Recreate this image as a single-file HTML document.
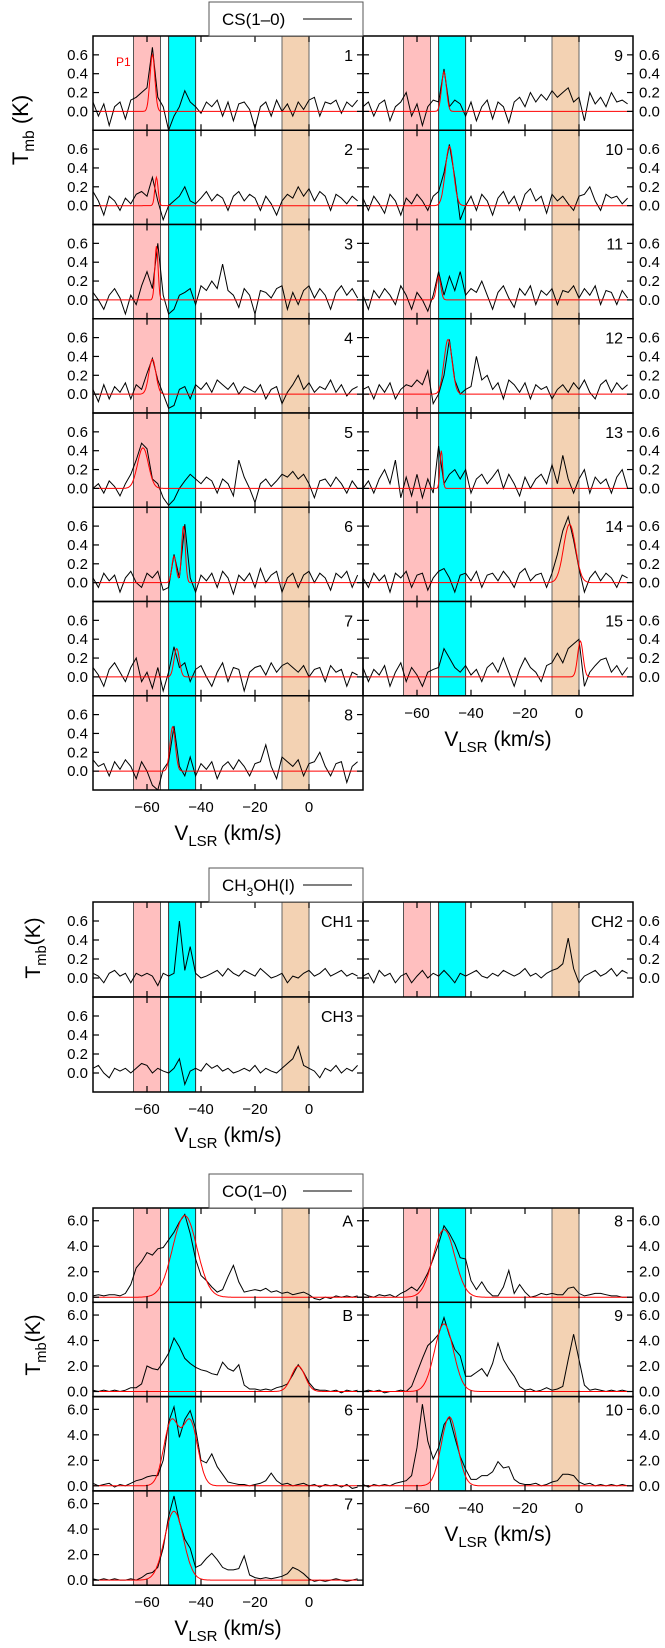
<!DOCTYPE html>
<html><head><meta charset="utf-8"><style>
body{margin:0;background:#fff}
svg text{font-family:"Liberation Sans",Arial,sans-serif}
</style></head><body>
<svg id="fig" xmlns="http://www.w3.org/2000/svg" width="665" height="1643" viewBox="0 0 665 1643">
</svg>
<script>
// ---------- data ----------
const velStart = -80, velStep = 2;
const csNames = ["1","2","3","4","5","6","7","8","9","10","11","12","13","14","15"];
const cs1=[0.1,-0.05,0.08,-0.15,0.05,0.1,-0.08,0.12,0.15,0.2,0.25,0.68,0.15,0.05,-0.2,-0.05,0.05,0.22,0.1,0.05,-0.02,0.1,0.05,0.12,-0.05,0.1,-0.1,0.08,0.1,0.02,-0.18,0.05,0.1,-0.05,0.12,0.0,0.08,-0.05,0.1,0.02,0.12,0.15,-0.05,0.1,0.08,0.12,-0.02,0.1,0.05,0.12];
const cs2=[0.15,0.05,-0.1,0.1,0.05,-0.05,0.08,0.02,0.12,0.15,0.1,0.3,0.05,-0.15,0.0,0.05,0.1,0.2,0.05,0.02,0.08,0.15,0.05,0.12,0.08,-0.05,0.1,0.15,0.05,0.12,0.08,-0.05,0.1,0.02,-0.1,0.05,0.12,0.08,0.2,0.1,0.18,0.05,0.15,0.1,-0.05,0.12,0.08,0.02,0.1,0.05];
const cs3=[0.08,0.0,-0.1,0.05,0.12,0.02,-0.15,0.05,-0.05,0.15,0.3,0.12,0.6,0.05,-0.15,-0.1,0.05,0.08,0.12,-0.05,0.15,0.1,0.2,0.12,0.38,0.1,0.05,-0.08,0.12,0.05,-0.15,0.1,0.08,0.02,0.12,0.15,-0.1,0.08,-0.05,0.1,0.15,0.02,0.12,0.05,-0.1,0.08,0.15,0.05,0.12,0.02];
const cs4=[0.05,-0.08,0.1,-0.05,0.08,0.02,0.12,-0.05,0.1,0.05,0.22,0.38,0.15,0.0,-0.15,-0.12,0.05,0.08,-0.05,0.1,0.05,0.12,0.02,0.15,0.1,0.05,0.12,0.0,0.08,0.05,0.02,0.1,-0.05,0.05,0.08,-0.1,0.02,0.1,0.2,0.05,0.12,0.02,0.08,0.05,0.15,0.02,0.1,-0.02,0.05,0.08];
const cs5=[0.0,0.05,-0.05,0.08,0.02,-0.08,0.05,0.15,0.3,0.48,0.42,0.1,0.05,-0.1,-0.18,-0.12,0.0,0.08,0.15,0.1,0.05,0.12,0.08,-0.05,0.1,0.05,-0.08,0.3,0.12,0.0,-0.15,0.05,0.1,0.02,0.08,0.15,0.12,0.18,0.1,0.15,0.05,-0.1,0.08,0.1,0.02,0.12,0.05,-0.05,0.08,0.0];
const cs6=[0.05,-0.05,0.1,0.02,0.08,-0.1,0.05,0.12,0.0,-0.05,0.1,0.05,0.12,-0.08,-0.05,0.3,0.05,0.62,0.05,-0.1,0.08,0.02,0.1,-0.05,0.12,0.05,-0.12,0.08,0.02,0.1,-0.05,0.15,0.0,0.08,0.12,-0.1,0.05,0.1,-0.05,0.08,0.12,0.0,0.1,0.05,-0.08,0.1,0.05,0.12,-0.05,0.08];
const cs7=[0.1,0.02,-0.1,0.08,0.15,0.05,-0.05,0.1,0.2,-0.05,0.05,-0.12,0.1,-0.15,0.05,0.32,0.1,0.15,-0.05,0.08,0.12,0.0,-0.1,0.05,0.15,-0.05,0.1,0.08,-0.15,0.05,0.1,0.12,0.02,0.15,0.05,0.12,0.15,0.1,0.05,0.12,0.0,0.08,0.1,-0.05,0.12,0.05,0.08,-0.1,0.05,0.02];
const cs8=[0.12,0.05,0.08,-0.05,0.1,0.02,0.12,0.05,-0.08,0.1,0.0,-0.15,-0.2,0.02,0.1,0.48,0.05,-0.05,0.15,-0.05,0.08,0.02,0.1,-0.08,0.05,0.1,0.02,0.12,0.05,-0.05,0.08,0.1,0.28,0.05,-0.08,0.15,0.1,0.05,0.12,-0.05,0.08,0.1,0.2,0.05,-0.05,0.08,0.1,-0.12,0.05,0.1];
const cs9=[0.05,0.1,-0.05,0.08,0.12,-0.1,0.05,0.1,0.2,-0.05,0.08,-0.15,0.05,0.12,0.1,0.45,0.05,0.12,0.08,-0.05,0.1,-0.1,0.05,0.12,-0.08,0.1,0.05,-0.12,0.1,0.15,0.05,0.2,0.1,0.18,0.12,0.22,0.15,0.2,0.25,0.1,0.15,-0.1,0.2,0.08,0.15,0.05,0.2,0.1,0.12,0.08];
const cs10=[0.08,-0.05,0.1,0.02,-0.08,0.12,0.05,-0.1,0.08,0.02,0.12,0.05,-0.05,0.1,0.15,0.35,0.65,0.3,-0.15,0.0,0.1,-0.05,0.12,0.05,-0.1,0.08,0.15,0.02,0.1,-0.05,0.12,0.18,0.05,0.1,-0.08,0.12,0.05,0.1,0.02,-0.05,0.1,0.12,0.2,0.05,-0.05,0.12,0.08,0.1,0.02,0.08];
const cs11=[0.05,-0.1,0.1,0.02,0.12,0.05,-0.05,0.15,0.05,-0.1,0.08,0.0,-0.12,0.05,0.3,0.05,0.25,0.1,0.3,0.05,0.12,0.08,0.2,0.05,-0.1,0.08,0.15,0.02,-0.08,0.12,0.05,0.15,-0.05,0.1,0.05,0.12,-0.05,0.1,0.08,0.15,0.02,0.12,0.05,0.15,-0.05,0.1,0.08,-0.05,0.1,0.02];
const cs12=[0.05,0.08,-0.05,0.1,0.02,0.12,-0.05,0.05,0.1,0.08,0.15,0.1,0.25,-0.1,0.0,0.2,0.58,0.15,0.0,0.05,0.08,0.4,0.15,0.2,0.05,0.12,-0.05,0.15,0.1,0.02,0.12,-0.05,0.1,0.05,0.08,-0.05,0.05,0.1,0.02,0.12,0.05,0.15,0.02,-0.05,0.1,0.15,0.02,0.12,0.05,0.1];
const cs13=[0.0,0.08,-0.05,0.1,0.2,0.05,0.3,-0.1,0.12,-0.08,0.15,-0.1,0.1,-0.05,0.45,0.05,0.15,0.2,0.1,0.2,-0.05,0.1,0.15,0.05,0.12,0.2,0.0,0.15,0.05,-0.08,0.12,0.0,0.1,0.15,0.05,0.25,0.05,0.35,0.1,-0.05,0.1,0.2,-0.05,0.12,0.05,0.1,-0.05,0.12,0.2,0.0];
const cs14=[0.05,-0.05,0.1,0.02,0.08,-0.1,0.1,0.05,0.12,-0.05,0.08,0.1,-0.08,0.05,0.12,0.15,0.05,-0.1,0.08,0.1,0.02,0.12,-0.05,0.08,0.1,0.02,0.12,0.05,-0.05,0.1,0.15,0.02,0.08,0.1,-0.05,0.1,0.3,0.55,0.7,0.45,0.15,-0.1,0.05,0.12,0.02,0.1,0.05,-0.05,0.08,0.05];
const cs15=[0.1,-0.05,0.08,0.02,0.12,-0.1,0.05,0.15,-0.05,0.1,0.02,-0.1,0.05,0.08,0.1,0.3,0.2,0.1,0.05,0.12,0.02,0.08,-0.05,0.1,0.15,0.05,0.2,0.05,-0.1,0.08,0.2,0.1,0.05,-0.05,0.12,0.15,0.25,0.15,0.3,0.35,0.4,-0.1,0.05,0.12,0.18,0.2,0.05,0.12,0.02,0.1];
const csSpectra=[cs1,cs2,cs3,cs4,cs5,cs6,cs7,cs8,cs9,cs10,cs11,cs12,cs13,cs14,cs15];
const csFitCenter=[[-58],[-56.5],[-56.5],[-58],[-61.5],[-50,-46.5],[-49],[-50.5],[-50],[-48],[-52],[-48.5],[-51],[-3.5],[0.5]];
const csFitAmp=[[0.6],[0.3],[0.57],[0.37],[0.43],[0.28,0.6],[0.3],[0.47],[0.42],[0.63],[0.25],[0.58],[0.4],[0.62],[0.38]];
const csFitSigma=[[0.9],[0.6],[0.6],[1.3],[2],[0.8,0.7],[1],[1],[0.9],[1.5],[0.8],[1.5],[0.5],[2.2],[1]];

const chNames=["CH1","CH2","CH3"];
const ch1=[0.05,0.02,-0.05,0.05,0.08,0.02,0.05,-0.05,0.05,0.02,0.05,0.02,-0.08,0.05,0.02,0.05,0.6,0.08,0.33,0.05,0.0,0.02,0.05,0.08,0.02,0.1,0.05,0.02,0.08,0.05,0.02,0.1,0.05,0.0,0.02,0.05,-0.05,0.02,0.0,0.05,0.08,0.02,0.05,0.1,0.02,0.05,0.08,0.02,0.05,0.02];
const ch2=[0.02,0.05,-0.05,0.08,0.02,0.05,-0.05,0.02,0.05,-0.05,0.02,0.08,0.0,0.05,0.02,0.08,0.02,-0.05,0.05,0.02,0.05,0.08,0.02,0.0,0.05,0.02,0.08,0.05,0.02,0.05,0.1,0.02,0.05,0.0,0.05,0.08,0.1,0.15,0.42,0.1,-0.05,0.02,0.05,0.08,0.02,0.05,0.1,0.02,0.08,0.05];
const ch3=[0.05,0.08,0.0,-0.05,0.05,0.02,0.05,0.0,0.05,0.1,0.08,0.0,0.05,0.02,0.0,0.05,0.15,-0.12,0.02,0.05,0.02,0.1,0.05,0.08,0.02,0.05,0.0,0.02,0.05,0.02,0.08,0.0,0.05,0.02,0.0,0.05,0.1,0.15,0.28,0.08,0.05,0.02,-0.05,0.05,0.02,0.08,0.0,0.05,0.02,0.08];
const chSpectra=[ch1,ch2,ch3];

const coNames=["A","B","6","7","8","9","10"];
const coA=[0.1,0.2,0.1,0.2,0.2,0.1,0.3,1.0,2.3,2.8,3.5,3.3,3.8,3.9,4.5,5.1,5.9,6.5,5.0,3.0,1.7,1.3,0.8,0.4,0.6,1.6,2.5,1.2,0.4,0.5,0.6,0.5,0.7,0.4,0.5,0.3,0.4,0.2,0.3,0.4,0.2,-0.1,-0.2,0.0,-0.1,0.1,0.0,0.1,0.0,0.1];
const coB=[0.1,0.0,0.1,0.0,0.1,0.0,0.1,0.3,0.3,0.6,2.0,1.8,1.7,2.3,3.0,4.2,3.5,2.6,2.2,1.9,1.7,1.6,1.4,1.3,2.3,1.8,1.6,2.1,0.5,0.2,0.2,0.1,0.2,0.1,0.3,0.4,0.6,1.3,2.1,1.5,0.7,0.2,0.1,0.1,0.0,0.1,-0.1,0.1,0.0,0.1];
const co6=[0.2,0.0,0.1,0.2,-0.1,0.1,0.0,0.2,0.4,0.5,0.7,0.8,0.8,2.0,5.0,6.2,3.8,5.2,5.9,4.5,2.0,1.8,2.5,1.5,0.9,0.3,0.2,0.1,0.1,0.0,0.1,0.2,0.4,1.0,0.4,0.1,0.2,0.0,0.1,0.2,0.0,0.1,-0.1,0.1,0.0,0.1,-0.1,0.1,-0.2,-0.1];
const co7=[0.1,0.0,0.1,0.0,0.1,0.0,0.0,0.1,0.0,0.2,0.5,0.6,1.0,2.5,5.0,6.6,4.6,3.2,2.5,1.0,1.2,1.7,2.1,1.6,1.0,0.8,0.8,0.9,1.9,0.4,0.2,0.1,0.2,0.1,0.2,0.3,0.5,1.0,0.8,0.5,0.1,-0.1,0.0,-0.1,0.0,0.1,0.0,-0.1,0.0,0.1];
const co8=[0.3,0.1,0.0,0.2,0.1,0.2,0.0,0.3,0.5,0.8,0.5,1.1,1.9,3.0,4.2,5.6,5.0,4.2,3.1,3.0,1.3,0.6,1.2,0.5,0.1,0.1,0.8,2.1,0.3,1.0,0.4,0.0,0.1,0.3,0.2,0.3,0.2,0.2,0.7,0.8,0.3,0.1,0.2,0.3,0.3,0.2,0.1,0.1,0.0,0.0];
const co9=[0.0,0.1,0.0,0.1,-0.1,0.0,0.0,0.1,0.0,0.4,1.5,2.6,3.6,4.0,4.5,5.8,4.4,3.3,2.8,1.2,1.2,1.5,1.8,1.2,2.2,3.8,2.5,1.8,1.2,0.4,0.1,0.2,0.0,0.1,0.3,0.1,0.2,0.4,2.5,4.5,2.5,0.5,0.1,0.2,0.1,0.0,0.1,0.0,0.1,0.0];
const co10=[0.1,-0.1,0.1,0.0,0.1,0.0,0.2,0.3,0.4,0.8,3.0,6.4,3.5,2.1,3.0,4.8,5.4,3.8,2.3,1.3,0.5,0.5,0.8,0.8,1.1,1.9,1.4,1.5,0.5,0.2,0.1,0.1,0.2,0.0,0.1,0.3,0.4,0.9,0.9,0.8,0.3,0.1,0.2,0.0,0.1,0.0,0.1,0.0,0.1,0.0];
const coSpectra=[coA,coB,co6,co7,co8,co9,co10];
const coFitCenter=[[-46],[-4],[-51,-44],[-50],[-50],[-50],[-48]];
const coFitAmp=[[6.4],[2.0],[5.0,5.0],[5.4],[5.3],[5.3],[5.4]];
const coFitSigma=[[4.5],[2.5],[2.8,2.8],[3.5],[4],[3.5],[3]];

const bandLo=[-65,-52,-10];
const bandHi=[-55,-42,0];
const xTicks=[-60,-40,-20,0];
const csYTicks=[0,0.2,0.4,0.6];
const coYTicks=[0,2,4,6];

// ---------- drawing ----------
const NS="http://www.w3.org/2000/svg";
const svg=document.getElementById('fig');
const bandFill=["#ffbfbf","#00ffff","#f3d2b3"];
const bandStroke=["#555","#333","#666"];
let clipId=0;
function el(tag,attrs,parent){const e=document.createElementNS(NS,tag);for(const k in attrs)e.setAttribute(k,attrs[k]);(parent||svg).appendChild(e);return e;}
function txt(x,y,s,size,anchor,parent){const t=el('text',{x:x,y:y,'font-size':size,'text-anchor':anchor||'start',fill:'#000'},parent);t.textContent=s;return t;}

function panel(o){
  // o: x0,y0,w,h,ymin,ymax,yTicks,labelSide,name,spec,fc,fa,fs,bottomLabels,fmt
  const g=el('g',{});
  
  
  const X=v=>o.x0+(v-(-80))/100*o.w;
  const Y=t=>o.y0+o.h-(t-o.ymin)/(o.ymax-o.ymin)*o.h;
  const cid='c'+(clipId++);
  const cp=el('clipPath',{id:cid},g);el('rect',{x:o.x0,y:o.y0,width:o.w,height:o.h},cp);
  for(let b=0;b<3;b++){
    const r=el('rect',{x:X(bandLo[b]),y:o.y0,width:X(bandHi[b])-X(bandLo[b]),height:o.h,fill:bandFill[b],stroke:bandStroke[b],'stroke-width':1},g);
    
    
  }
  const inner=el('g',{'clip-path':'url(#'+cid+')'},g);
  let pts=o.spec.map((t,i)=>X(velStart+velStep*i).toFixed(1)+','+Y(t).toFixed(1)).join(' ');
  const pl=el('polyline',{points:pts,fill:'none',stroke:'#000','stroke-width':1},inner);
  
  
  if(o.fc){
    let fp=[];
    for(let v=-80;v<=20;v+=0.25){let s=0;for(let k=0;k<o.fc.length;k++)s+=o.fa[k]*Math.exp(-0.5*Math.pow((v-o.fc[k])/o.fs[k],2));fp.push(X(v).toFixed(1)+','+Y(s).toFixed(1));}
    const fl=el('polyline',{points:fp.join(' '),fill:'none',stroke:'#f00','stroke-width':1},inner);
    
    
  }
  el('rect',{x:o.x0,y:o.y0,width:o.w,height:o.h,fill:'none',stroke:'#000','stroke-width':1.5},g);
  for(const v of xTicks){
    el('line',{x1:X(v),x2:X(v),y1:o.y0,y2:o.y0+6,stroke:'#000','stroke-width':1.2},g);
    el('line',{x1:X(v),x2:X(v),y1:o.y0+o.h,y2:o.y0+o.h-6,stroke:'#000','stroke-width':1.2},g);
  }
  for(const t of o.yTicks){
    el('line',{x1:o.x0,x2:o.x0+6,y1:Y(t),y2:Y(t),stroke:'#000','stroke-width':1.2},g);
    el('line',{x1:o.x0+o.w,x2:o.x0+o.w-6,y1:Y(t),y2:Y(t),stroke:'#000','stroke-width':1.2},g);
    const lab=o.labelSide==='left'?txt(o.x0-5,Y(t)+5,t.toFixed(1),15,'end',g):txt(o.x0+o.w+6,Y(t)+5,t.toFixed(1),15,'start',g);
    
    
  }
  const nm=txt(o.x0+o.w-10,Y(o.yTicks[3])+6,o.name,16,'end',g);
  
  
  if(o.bottomLabels){
    for(const v of xTicks){
      const l=txt(X(v),o.y0+o.h+22,v===0?'0':'\u2212'+Math.abs(v),15,'middle',g);
      
      
    }
    const tt=el('text',{x:o.x0+o.w/2,y:o.y0+o.h+50,'font-size':21,'text-anchor':'middle'},g);
    
    
    tt.innerHTML='V<tspan font-size="15" dy="6">LSR</tspan><tspan dy="-6"> (km/s)</tspan>';
  }
}

const LX=93, RX=363, PW=270;
// CS
const csTop=36, csH=94.25;
for(let i=0;i<15;i++){
  const right=i>=8, row=right?i-8:i;
  panel({x0:right?RX:LX,y0:csTop+row*csH,w:PW,h:csH,ymin:-0.2,ymax:0.8,yTicks:csYTicks,labelSide:right?'right':'left',name:csNames[i],spec:csSpectra[i],fc:csFitCenter[i],fa:csFitAmp[i],fs:csFitSigma[i],bottomLabels:(i===7||i===14)});
}
// CH3OH
const chTop=902, chH=95;
panel({x0:LX,y0:chTop,w:PW,h:chH,ymin:-0.2,ymax:0.8,yTicks:csYTicks,labelSide:'left',name:chNames[0],spec:chSpectra[0],bottomLabels:false});
panel({x0:RX,y0:chTop,w:PW,h:chH,ymin:-0.2,ymax:0.8,yTicks:csYTicks,labelSide:'right',name:chNames[1],spec:chSpectra[1],bottomLabels:false});
panel({x0:LX,y0:chTop+chH,w:PW,h:chH,ymin:-0.2,ymax:0.8,yTicks:csYTicks,labelSide:'left',name:chNames[2],spec:chSpectra[2],bottomLabels:true});
// CO
const coTop=1208, coH=94.3;
for(let i=0;i<7;i++){
  const right=i>=4, row=right?i-4:i;
  panel({x0:right?RX:LX,y0:coTop+row*coH,w:PW,h:coH,ymin:-0.4,ymax:7.0,yTicks:coYTicks,labelSide:right?'right':'left',name:coNames[i],spec:coSpectra[i],fc:coFitCenter[i],fa:coFitAmp[i],fs:coFitSigma[i],bottomLabels:(i===3||i===6)});
}

// legends
function legend(y0,html,name){
  const g=el('g',{});
  
  
  el('rect',{x:209,y:y0,width:154,height:34,fill:'#fff',stroke:'#555','stroke-width':1},g);
  const t=el('text',{x:222,y:y0+23,'font-size':17},g);t.innerHTML=html;
  el('line',{x1:303,x2:352,y1:y0+17,y2:y0+17,stroke:'#000','stroke-width':1},g);
}
legend(2,'CS(1\u20130)','legend-cs');
legend(868,'CH<tspan font-size="12" dy="5">3</tspan><tspan dy="-5">OH(I)</tspan>','legend-ch3oh');
legend(1174,'CO(1\u20130)','legend-co');

// y titles
function ytitle(x,y,size,sep,name){
  const t=el('text',{x:0,y:0,'font-size':size,'text-anchor':'middle',transform:'translate('+x+','+y+') rotate(-90)'});
  
  
  t.innerHTML='T<tspan font-size="'+(size*0.7)+'" dy="6">mb</tspan><tspan dy="-6">'+sep+'(K)</tspan>';
}
ytitle(28,130,22,' ','y-axis-title-cs');
ytitle(40,948,21,'','y-axis-title-ch3oh');
ytitle(40,1345,21,'','y-axis-title-co');

// P1 label
const p1=txt(116,66,'P1',12,'start');
p1.setAttribute('fill','#f00');


</script>
</body></html>
